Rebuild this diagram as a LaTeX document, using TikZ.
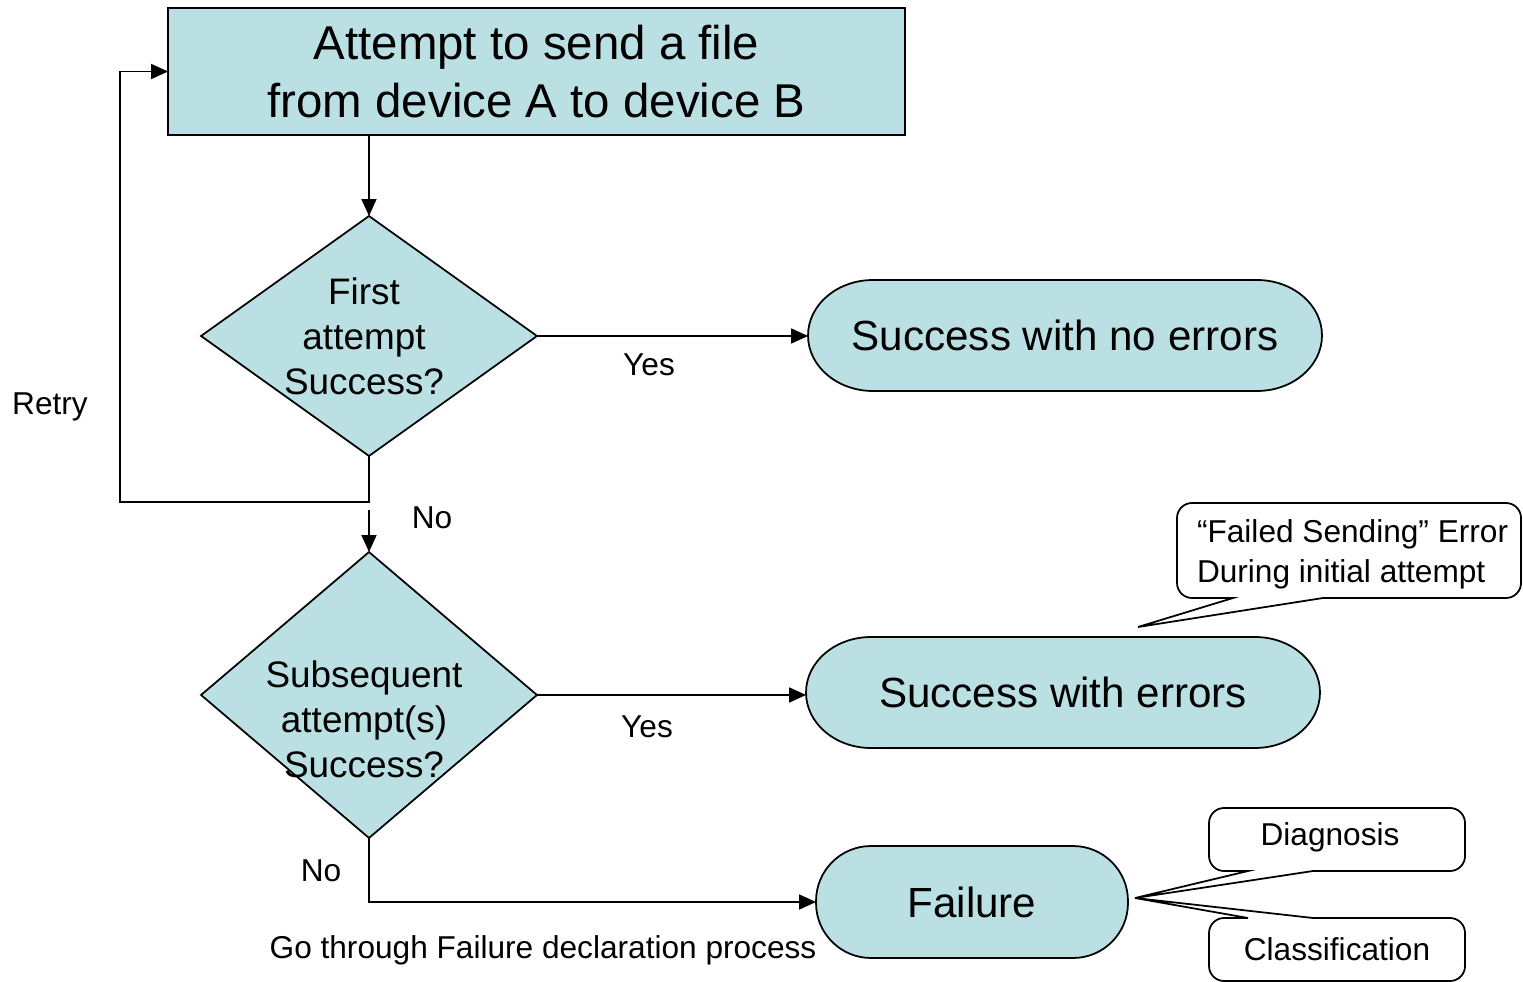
\documentclass[tikz,border=0pt]{standalone}
\usepackage{fontspec}
\setmainfont{Liberation Sans}
\usetikzlibrary{arrows.meta,shapes.geometric}
\definecolor{fillblue}{RGB}{187,224,227}
\begin{document}
\begin{tikzpicture}[x=0.02cm,y=-0.02cm,
  every node/.style={inner sep=0pt, outer sep=0pt},
  conn/.style={line width=1pt},
  arr/.style={conn,-{Triangle[length=0.34cm,width=0.3cm]}},
  box/.style={draw, line width=1pt, fill=fillblue},
  term/.style={box, rounded corners=1.1cm, font=\fontsize{24}{29}\selectfont},
  oval/.style={font=\fontsize{24}{29}\selectfont},
  ovalend/.style={x radius=1.3cm, y radius=1.11cm},
  dtext/.style={align=center, font=\fontsize{21}{25.6}\selectfont},
  lbl/.style={font=\fontsize{18}{22}\selectfont},
  callout/.style={line width=1pt},
  ctext/.style={align=left, font=\fontsize{18}{22.8}\selectfont}
]
\useasboundingbox (0,0) rectangle (1523,982);

% main box
\node[box, minimum width=14.74cm, minimum height=2.54cm, align=center,
  font=\fontsize{27}{33}\selectfont] (start) at (536.5,71.5)
  {Attempt to send a file\\from device A to device B};

% decisions
\node[box, diamond, minimum width=6.72cm, minimum height=4.8cm] (d1) at (369,336) {};
\node[dtext] (d1t) at (364,336) {First\\attempt\\Success?};
\node[box, diamond, minimum width=6.72cm, minimum height=5.72cm] (d2) at (369,695) {};
\node[dtext] (d2t) at (364,719) {Subsequent\\attempt(s)\\Success?};

% terminals with elliptic ends
\draw[box] (873,280) -- (1257,280) arc[start angle=90,end angle=-90,ovalend]
  -- (873,391) arc[start angle=270,end angle=90,ovalend] -- cycle;
\node[oval, minimum width=10.28cm, minimum height=2.22cm] (s1) at (1065,335.5) {Success with no errors};
\draw[box] (871,637) -- (1255,637) arc[start angle=90,end angle=-90,ovalend]
  -- (871,748) arc[start angle=270,end angle=90,ovalend] -- cycle;
\node[oval, minimum width=10.28cm, minimum height=2.22cm] (s2) at (1063,692.5) {Success with errors};
\node[term, minimum width=6.24cm, minimum height=2.24cm] (fail) at (972,902) {Failure};

% connectors
\draw[arr] (start.south -| d1.north) -- (d1.north);
\draw[arr] (d1.east) -- (d1.east -| s1.west);
\coordinate (loopcorner) at (120,502);
\draw[arr] (d1.south) |- (loopcorner) |- (start.west);
\coordinate (nostart) at (369,510);
\draw[arr] (nostart) -- (d2.north);
\draw[arr] (d2.east) -- (d2.east -| s2.west);
\draw[arr] (d2.south) |- (fail.west);

% labels
\node[lbl] (retry) at (50,407) {Retry};
\node[lbl] (yes1) at (649,365) {Yes};
\node[lbl] (no1) at (432,518) {No};
\node[lbl] (yes2) at (647,727) {Yes};
\node[lbl] (no2) at (321,871) {No};
\node[lbl] (gothrough) at (543,950) {Go through Failure declaration process};

% callout 1
\coordinate (c1tip) at (1138,627);
\draw[callout] (1233,598) -- (c1tip) -- (1323,598) [rounded corners=0.3cm]
  -- (1521,598) -- (1521,503) -- (1177,503) -- (1177,598) [sharp corners] -- cycle;
\node[ctext, anchor=west] (c1) at (1197,554) {“Failed Sending” Error\\During initial attempt};

% callout diagnosis
\coordinate (c2tip) at (1135,898);
\draw[callout] (1248,871) -- (c2tip) -- (1313,871) [rounded corners=0.3cm]
  -- (1465,871) -- (1465,808) -- (1209,808) -- (1209,871) [sharp corners] -- cycle;
\node[ctext] (c2) at (1330,837) {Diagnosis};

% callout classification
\draw[callout] (1248,918) -- (c2tip) -- (1313,918) [rounded corners=0.3cm]
  -- (1465,918) -- (1465,981) -- (1209,981) -- (1209,918) [sharp corners] -- cycle;
\node[ctext] (c3) at (1337,949) {Classification};
\end{tikzpicture}
\end{document}
